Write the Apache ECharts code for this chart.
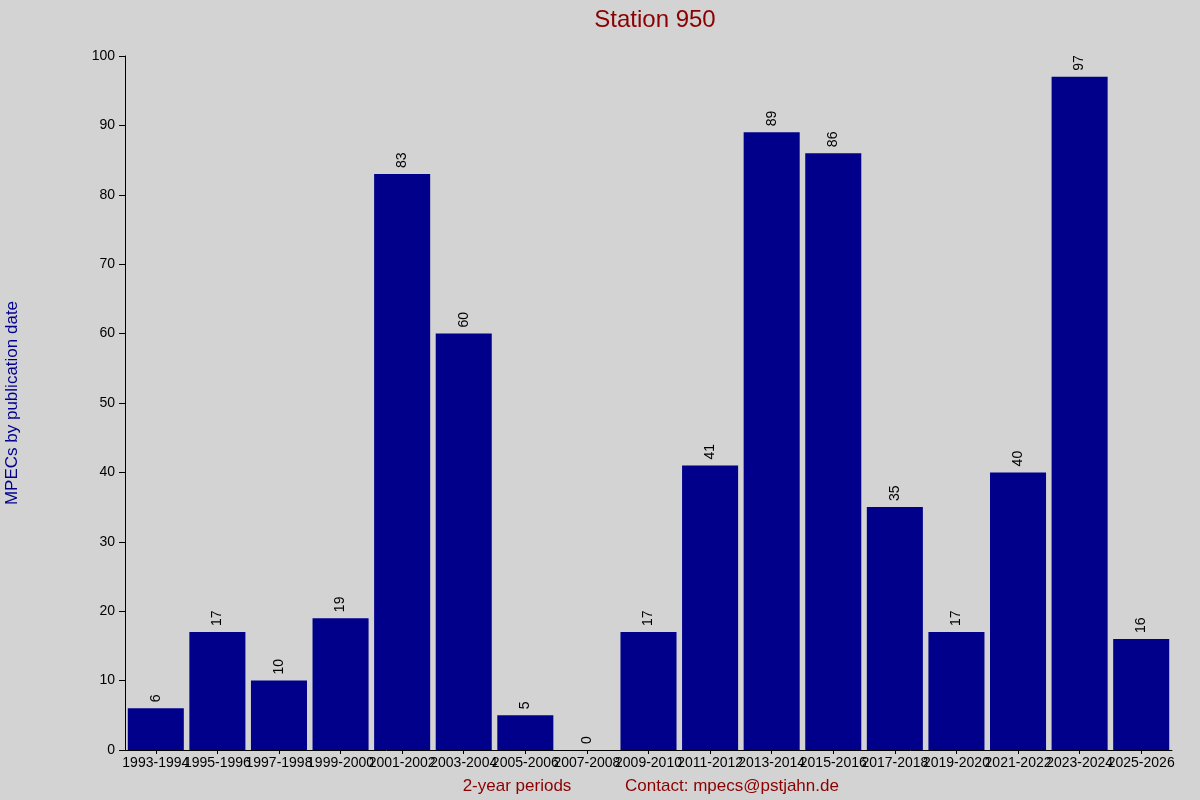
<!DOCTYPE html>
<html><head><meta charset="utf-8">
<script src="https://cdn.jsdelivr.net/npm/echarts@6/dist/echarts.min.js"></script>
<style>html,body{margin:0;background:#d3d3d3}#c{width:1200px;height:800px}</style>
</head><body><div id="c"></div>
<script>
const categories=["1993-1994","1995-1996","1997-1998","1999-2000","2001-2002","2003-2004","2005-2006","2007-2008","2009-2010","2011-2012","2013-2014","2015-2016","2017-2018","2019-2020","2021-2022","2023-2024","2025-2026"];
const values=[6,17,10,19,83,60,5,0,17,41,89,86,35,17,40,97,16];
const yTicks={min:0,max:100,interval:10};
const chart=echarts.init(document.getElementById('c'));
chart.setOption({
  backgroundColor:'#d3d3d3',
  animation:false,
  textStyle:{fontFamily:'Liberation Sans, Arial, sans-serif'},
  title:{text:'Station 950',left:650,top:3,textAlign:'center',textStyle:{color:'#8b0000',fontSize:24,fontWeight:'normal'}},
  grid:{left:125,right:28,top:56,bottom:50},
  xAxis:{type:'category',data:categories,
    axisLine:{lineStyle:{color:'#000'}},axisTick:{show:true,alignWithLabel:true,length:4,lineStyle:{color:'#000'}},
    axisLabel:{color:'#000',fontSize:14,interval:0,margin:6}},
  yAxis:{type:'value',min:yTicks.min,max:yTicks.max,interval:yTicks.interval,
    axisLine:{show:true,lineStyle:{color:'#000'}},axisTick:{show:true,length:6,lineStyle:{color:'#000'}},
    splitLine:{show:false},axisLabel:{color:'#000',fontSize:14,margin:10}},
  series:[{type:'bar',data:values,barCategoryGap:'9%',itemStyle:{color:'#00008b'},
    label:{show:true,position:'top',rotate:90,align:'left',verticalAlign:'middle',distance:6,color:'#000',fontSize:14}}],
  graphic:[
    {type:'text',left:2,top:403,rotation:Math.PI/2,style:{text:'MPECs by publication date',fill:'#00008b',fontSize:17,fontFamily:'Liberation Sans, Arial, sans-serif',textAlign:'center',textVerticalAlign:'middle'},x:12,y:403,left:null,top:null},
    {type:'text',x:517,y:786,style:{text:'2-year periods',fill:'#8b0000',fontSize:17,fontFamily:'Liberation Sans, Arial, sans-serif',textAlign:'center',textVerticalAlign:'middle'}},
    {type:'text',x:732,y:786,style:{text:'Contact: mpecs@pstjahn.de',fill:'#8b0000',fontSize:17,fontFamily:'Liberation Sans, Arial, sans-serif',textAlign:'center',textVerticalAlign:'middle'}}
  ]
});
</script></body></html>
